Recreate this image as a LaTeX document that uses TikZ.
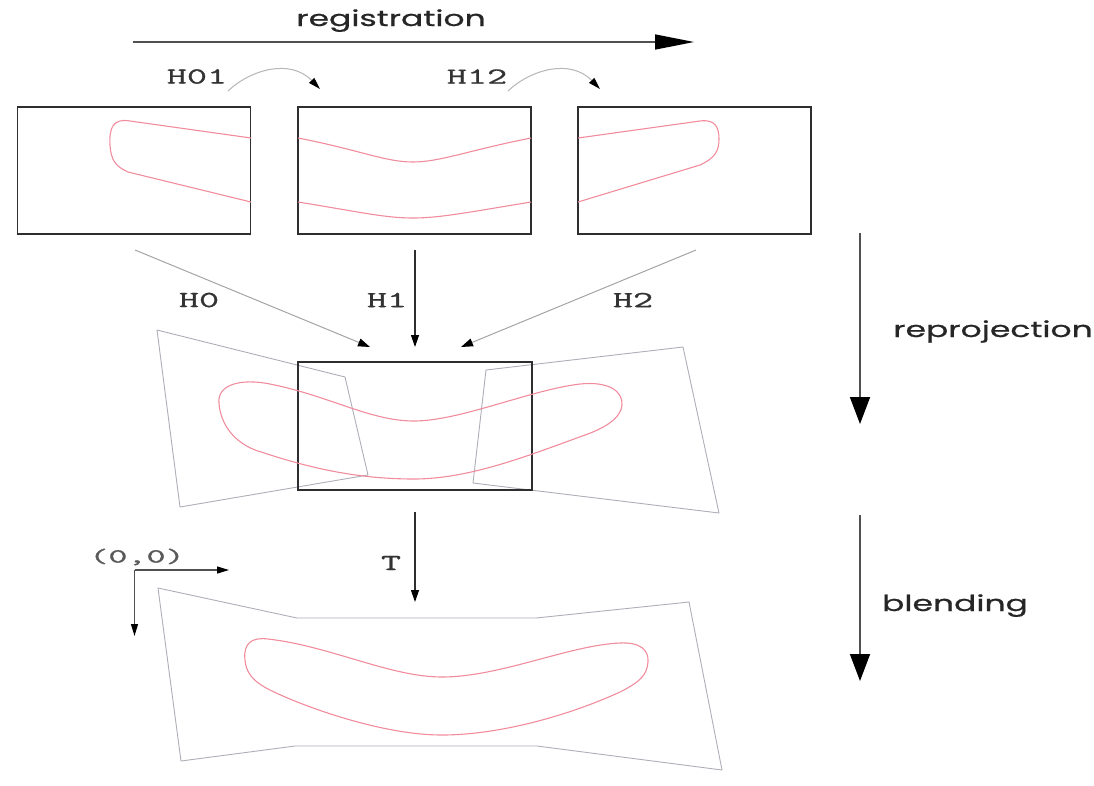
\documentclass[tikz,border=0pt]{standalone}
\usepackage{fontspec}
\newfontfamily\geo[FakeBold=0.6]{Poppins}
\newfontfamily\mono[FakeBold=0.8]{Latin Modern Mono}
\usetikzlibrary{arrows.meta}
\definecolor{framecol}{HTML}{2E2E2E}
\definecolor{quadcol}{HTML}{ADAEB8}
\definecolor{curvecol}{HTML}{F08C9C}
\definecolor{thincol}{HTML}{A4A4A4}
\definecolor{bigcol}{HTML}{505050}
\tikzset{
  frame/.style={draw=framecol, line width=1.2pt, inner sep=0pt, minimum width=233pt, minimum height=127pt},
  quad/.style={draw=quadcol, line width=0.9pt, line join=round},
  outline/.style={draw=curvecol, line width=1.1pt},
  bigarrow/.style={draw=bigcol, line width=1.6pt, -{Triangle[length=27pt,width=20pt,color=black]}},
  toparrow/.style={draw=bigcol, line width=1.6pt, -{Triangle[length=39pt,width=15pt,color=black]}},
  homarrow/.style={draw=thincol, line width=1pt, -{Triangle[length=12pt,width=8pt,color=black]}},
  darkarrow/.style={draw=framecol, line width=1.2pt, -{Triangle[length=12pt,width=8pt,color=black]}},
  bendarrow/.style={draw=thincol!80, line width=1pt, -{Triangle[length=12pt,width=7pt,color=black]}},
  axisarrow/.style={draw=bigcol, line width=1.2pt, -{Triangle[length=12pt,width=7pt,color=black]}},
  steplabel/.style={anchor=base, inner sep=0pt, text=black!85, font=\geo\fontsize{22}{26}\selectfont},
  homlabel/.style={inner sep=0pt, text=black!80, font=\mono\fontsize{23}{27}\selectfont},
}
\newcommand{\wide}[1]{\scalebox{1.5}[1]{#1}}
\newcommand{\widemono}[1]{\scalebox{1.7}[1]{#1}}
\begin{document}
\begin{tikzpicture}[x=1pt, y=-1pt]
\useasboundingbox (0,0) rectangle (1094,785);

% stage labels and their arrows
\node[steplabel] (reg) at (391,26) {\wide{registration}};
\coordinate (regA) at (133,42);
\coordinate (regB) at (694,42);
\draw[toparrow] (regA) -- (regB);

\coordinate (repA) at (860,233);
\coordinate (repB) at (860,424);
\draw[bigarrow] (repA) -- (repB);
\node[steplabel] (rep) at (993,337) {\wide{reprojection}};

\coordinate (bleA) at (860,515);
\coordinate (bleB) at (860,681);
\draw[bigarrow] (bleA) -- (bleB);
\node[steplabel] (ble) at (955,611) {\wide{blending}};

% input frames
\node[frame] (f0) at (134,170.5) {};
\node[frame] (f1) at (414.5,170.5) {};
\node[frame] (f2) at (694.5,170.5) {};

% object outline as seen in each frame
\draw[outline] (251,138) -- (130,121) .. controls (113,118) and (109,128) .. (110,145)
  .. controls (111,160) and (115,166) .. (128,172) -- (251,202);
\draw[outline] (298,138) .. controls (360,150) and (385,162) .. (413,162)
  .. controls (440,162) and (470,150) .. (531,138);
\draw[outline] (298,202) .. controls (360,212) and (385,218) .. (413,218)
  .. controls (440,218) and (470,212) .. (531,202);
\draw[outline] (578,138) -- (700,121) .. controls (715,119) and (719,127) .. (719,139)
  .. controls (719,151) and (715,158) .. (700,165) -- (578,202);

% pairwise homographies
\node[homlabel] (h01) at (197,76.5) {\widemono{H01}};
\node[homlabel] (h12) at (477,76.5) {\widemono{H12}};
\coordinate (b01a) at (228,91);
\coordinate (b01b) at (320,89);
\coordinate (b12a) at (508,91);
\coordinate (b12b) at (600,89);
\draw[bendarrow] (b01a) .. controls (250,70) and (290,58) .. (b01b);
\draw[bendarrow] (b12a) .. controls (530,70) and (570,58) .. (b12b);

% projections into the reference frame
\coordinate (p0a) at (135,250);
\coordinate (p0b) at (370,347);
\coordinate (p1a) at (415,250);
\coordinate (p1b) at (415,347);
\coordinate (p2a) at (696,250);
\coordinate (p2b) at (461,347);
\draw[homarrow] (p0a) -- (p0b);
\draw[darkarrow] (p1a) -- (p1b);
\draw[homarrow] (p2a) -- (p2b);
\node[homlabel] (h0) at (199,300) {\widemono{H0}};
\node[homlabel] (h1) at (387,300) {\widemono{H1}};
\node[homlabel] (h2) at (633,300) {\widemono{H2}};

% reprojected frames
\draw[quad] (157,330) -- (345,377) -- (368,475) -- (180,507) -- cycle;
\draw[quad] (486,370) -- (683,347) -- (719,513) -- (473,483) -- cycle;
\node[frame, minimum width=234pt, minimum height=128pt] (ref) at (415,426) {};
\draw[outline] (219,403) .. controls (217,385) and (240,378) .. (270,384)
  .. controls (330,396) and (370,421) .. (414,421)
  .. controls (460,421) and (530,390) .. (580,384)
  .. controls (610,381) and (623,392) .. (622,405)
  .. controls (621,418) and (605,428) .. (585,435)
  .. controls (530,455) and (470,479) .. (414,479)
  .. controls (350,479) and (300,465) .. (255,450)
  .. controls (230,440) and (220,420) .. (219,403) -- cycle;

% translation to the mosaic
\coordinate (ta) at (415,512);
\coordinate (tb) at (415,602);
\draw[darkarrow] (ta) -- (tb);
\node[homlabel] (t) at (391,563) {\widemono{T}};

% mosaic axes
\coordinate (o) at (134.5,570);
\coordinate (ox) at (229,570);
\coordinate (oy) at (134.5,636);
\draw[axisarrow] (o) -- (ox);
\draw[axisarrow] (o) -- (oy);
\node[homlabel, font=\mono\fontsize{20}{24}\selectfont, text=black!65] (orig) at (137,557) {\scalebox{1.85}[1]{(0,0)}};

% blended mosaic
\draw[quad] (158,588) -- (297,618) -- (536,618) -- (689,602) -- (722,770)
  -- (537,746) -- (295,746) -- (181,761) -- cycle;
\draw[outline] (245,660) .. controls (243,643) and (252,637) .. (268,639)
  .. controls (330,646) and (390,677) .. (442,677)
  .. controls (500,677) and (570,645) .. (620,643)
  .. controls (640,642) and (649,650) .. (648,662)
  .. controls (647,675) and (640,682) .. (620,692)
  .. controls (570,715) and (500,735) .. (442,735)
  .. controls (380,735) and (300,705) .. (270,690)
  .. controls (252,681) and (246,672) .. (245,660) -- cycle;
\end{tikzpicture}
\end{document}
